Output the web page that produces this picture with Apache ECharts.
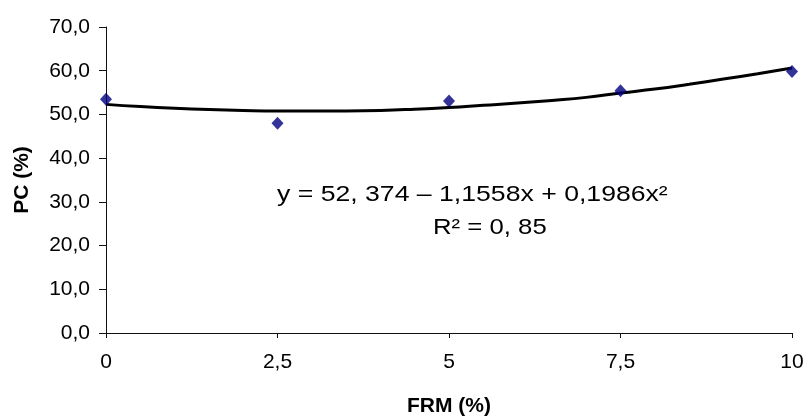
<!DOCTYPE html>
<html>
<head>
<meta charset="utf-8">
<script src="https://cdn.jsdelivr.net/npm/echarts@6/dist/echarts.min.js"></script>
<style>
  html, body { margin: 0; padding: 0; background: #fff; }
  #chart { width: 806px; height: 417px; }
</style>
</head>
<body>
<div id="chart"></div>
<script>
// measured points (FRM %, PC %)
const frmValues = [0, 2.5, 5, 7.5, 10];
const pcValues = [53.5, 48.0, 53.1, 55.4, 59.8];

// polynomial trend line
const trendX = [0, 0.5, 1, 1.5, 2, 2.5, 3, 3.5, 4, 4.5, 5, 5.5, 6, 6.5, 7, 7.5, 8, 8.5, 9, 9.5, 10];
const trendY = [52.3, 51.8, 51.4, 51.1, 50.9, 50.8, 50.8, 50.8, 50.9, 51.2, 51.6, 52.1, 52.6, 53.2, 53.9, 54.9, 55.8, 56.9, 58.1, 59.3, 60.6];

const equationText = 'y = 52, 374 – 1,1558x + 0,1986x²';
const r2Text = 'R² = 0, 85';

const comma = v => String(v).replace('.', ',');

const chart = echarts.init(document.getElementById('chart'));

const option = {
  animation: false,
  grid: {
    left: 106,
    right: 14,
    top: 27,
    bottom: 84,
    containLabel: false,
    outerBoundsMode: 'none'
  },
  xAxis: {
    type: 'value',
    min: 0,
    max: 10,
    interval: 2.5,
    name: 'FRM (%)',
    nameLocation: 'middle',
    nameGap: 63,
    nameTextStyle: {
      fontFamily: 'Liberation Sans, Arial',
      fontWeight: 'bold',
      fontSize: 21,
      color: '#000'
    },
    axisLine: { lineStyle: { color: '#111', width: 1 } },
    axisTick: { show: true, length: 5, inside: false, lineStyle: { color: '#111' } },
    splitLine: { show: false },
    axisLabel: {
      margin: 19,
      fontFamily: 'Liberation Sans, Arial',
      fontSize: 21,
      color: '#000',
      formatter: v => comma(v)
    }
  },
  yAxis: {
    type: 'value',
    min: 0,
    max: 70,
    interval: 10,
    name: 'PC (%)',
    nameLocation: 'middle',
    nameGap: 73,
    nameTextStyle: {
      fontFamily: 'Liberation Sans, Arial',
      fontWeight: 'bold',
      fontSize: 21,
      color: '#000'
    },
    axisLine: { show: true, lineStyle: { color: '#111', width: 1 } },
    axisTick: { show: true, length: 7, lineStyle: { color: '#111' } },
    splitLine: { show: false },
    axisLabel: {
      margin: 16,
      fontFamily: 'Liberation Sans, Arial',
      fontSize: 21,
      color: '#000',
      formatter: v => v.toFixed(1).replace('.', ',')
    }
  },
  graphic: [
    {
      type: 'text',
      left: 277,
      top: 184,
      scaleX: 1.21,
      style: {
        text: equationText,
        font: '22px "Liberation Sans", Arial',
        fill: '#000'
      }
    },
    {
      type: 'text',
      left: 433,
      top: 217,
      scaleX: 1.17,
      style: {
        text: r2Text,
        font: '22px "Liberation Sans", Arial',
        fill: '#000'
      }
    }
  ],
  series: [
    {
      name: 'Polinômio',
      type: 'line',
      data: trendX.map((x, i) => [x, trendY[i]]),
      showSymbol: false,
      smooth: true,
      lineStyle: { color: '#000', width: 3 },
      z: 2
    },
    {
      name: 'PC',
      type: 'scatter',
      data: frmValues.map((x, i) => [x, pcValues[i]]),
      symbol: 'diamond',
      symbolSize: [12, 13],
      itemStyle: { color: '#000080' },
      z: 3
    }
  ]
};

chart.setOption(option);
</script>
</body>
</html>
